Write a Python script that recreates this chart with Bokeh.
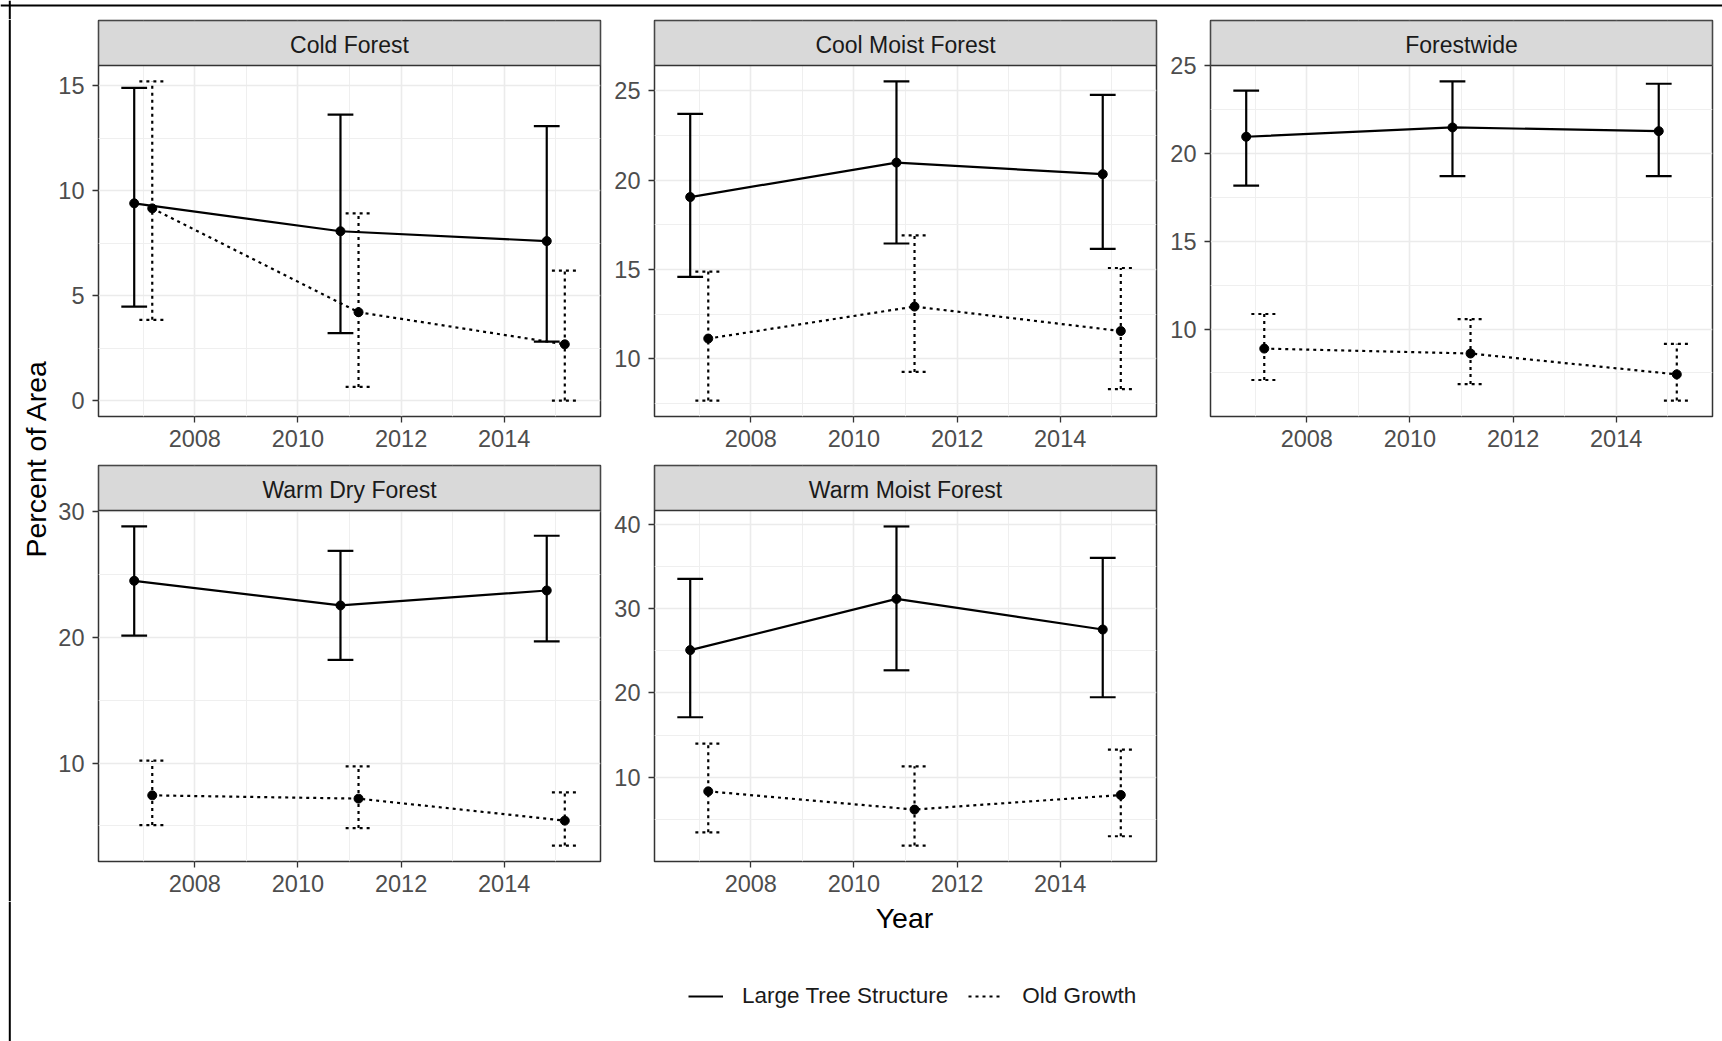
import math
from bokeh.plotting import figure
from bokeh.layouts import column, row
from bokeh.models import (ColumnDataSource, Range1d, FixedTicker, Label, Span,
                          Legend, LegendItem)
from bokeh.transform import dodge
from bokeh.embed import file_html
from bokeh.resources import INLINE

# ---------------- data ----------------
years = [2007, 2011, 2015]
series_names = ["Large Tree Structure", "Old Growth"]
panel_names = ["Cold Forest", "Cool Moist Forest", "Forestwide",
               "Warm Dry Forest", "Warm Moist Forest"]

cold_lts_mean = [9.40, 8.07, 7.60]
cold_lts_low = [4.48, 3.21, 2.81]
cold_lts_high = [14.90, 13.63, 13.08]
cold_og_mean = [9.16, 4.21, 2.68]
cold_og_low = [3.85, 0.65, 0.00]
cold_og_high = [15.21, 8.92, 6.19]

cool_lts_mean = [19.06, 20.99, 20.34]
cool_lts_low = [14.59, 16.46, 16.16]
cool_lts_high = [23.71, 25.53, 24.78]
cool_og_mean = [11.14, 12.93, 11.56]
cool_og_low = [7.67, 9.27, 8.31]
cool_og_high = [14.89, 16.91, 15.09]

fw_lts_mean = [20.96, 21.49, 21.28]
fw_lts_low = [18.18, 18.72, 18.72]
fw_lts_high = [23.59, 24.11, 23.98]
fw_og_mean = [8.89, 8.61, 7.42]
fw_og_low = [7.10, 6.87, 5.93]
fw_og_high = [10.86, 10.57, 9.16]

wd_lts_mean = [24.49, 22.53, 23.72]
wd_lts_low = [20.13, 18.20, 19.68]
wd_lts_high = [28.81, 26.87, 28.07]
wd_og_mean = [7.43, 7.17, 5.42]
wd_og_low = [5.07, 4.83, 3.44]
wd_og_high = [10.19, 9.74, 7.67]

wm_lts_mean = [25.07, 31.14, 27.51]
wm_lts_low = [17.12, 22.68, 19.49]
wm_lts_high = [33.51, 39.72, 36.00]
wm_og_mean = [8.34, 6.18, 7.91]
wm_og_low = [3.49, 1.92, 3.02]
wm_og_high = [13.99, 11.30, 13.28]

x_ticks = [2008, 2010, 2012, 2014]
x_minor = [2007, 2009, 2011, 2013, 2015]
cold_ticks = [0, 5, 10, 15]
cold_minor = [2.5, 7.5, 12.5]
cool_ticks = [10, 15, 20, 25]
cool_minor = [7.5, 12.5, 17.5, 22.5]
fw_ticks = [10, 15, 20, 25]
fw_minor = [7.5, 12.5, 17.5, 22.5]
wd_ticks = [10, 20, 30]
wd_minor = [5, 15, 25]
wm_ticks = [10, 20, 30, 40]
wm_minor = [5, 15, 25, 35]

# ---------------- style ----------------
FONT = "Liberation Sans"
TICK_SIZE = "23.5px"
STRIP_SIZE = "23px"
LEG_SIZE = "22.5px"
TITLE_SIZE = "28.5px"
DODGE = 0.175
CAP = 0.25
FRAME_W = 502
FRAME_H = 351
STRIP_H = 45
LW = 2.2


def padded(lo, hi, frac=0.05):
    span = hi - lo
    return lo - frac * span, hi + frac * span


x_lo, x_hi = padded(min(years) - DODGE - CAP, max(years) + DODGE + CAP)


def blank_fig(w, h, **kw):
    f = figure(width=w, height=h, output_backend="svg", toolbar_location=None,
               tools="", x_axis_location=None, y_axis_location=None,
               title_location=None, min_border=0, **kw)
    f.xgrid.visible = False
    f.ygrid.visible = False
    f.outline_line_color = None
    return f


def panel_fig(name, lts, og, yticks, yminor, left, bottom):
    lo = min(min(lts[1]), min(og[1]))
    hi = max(max(lts[2]), max(og[2]))
    y0, y1 = padded(lo, hi)
    y_top = y1 + (y1 - y0) * STRIP_H / FRAME_H   # room for the facet strip
    p = figure(width=left + FRAME_W + 2, height=1 + STRIP_H + FRAME_H + bottom,
               x_range=Range1d(x_lo, x_hi), y_range=Range1d(y0, y_top),
               output_backend="svg", toolbar_location=None, tools="",
               title_location=None,
               min_border_left=left, min_border_right=2,
               min_border_top=1, min_border_bottom=bottom)
    p.xaxis.ticker = FixedTicker(ticks=x_ticks, minor_ticks=x_minor)
    p.yaxis.ticker = FixedTicker(ticks=yticks, minor_ticks=yminor)
    for ax in (p.xaxis[0], p.yaxis[0]):
        ax.axis_line_color = None
        ax.major_tick_line_color = "#333333"
        ax.major_tick_line_width = 1.3
        ax.major_tick_out = 6
        ax.major_tick_in = 0
        ax.minor_tick_line_color = None
        ax.major_label_text_font = FONT
        ax.major_label_text_font_size = TICK_SIZE
        ax.major_label_text_color = "#4D4D4D"
    p.xaxis.major_label_standoff = 7
    p.yaxis.major_label_standoff = 8
    p.grid.grid_line_color = "#EBEBEB"
    p.grid.grid_line_width = 1.6
    p.grid.minor_grid_line_color = "#EFEFEF"
    p.grid.minor_grid_line_width = 1.0
    p.outline_line_color = "#333333"
    p.outline_line_width = 1.5
    p.background_fill_color = "white"

    # facet strip
    p.quad(left=x_lo, right=x_hi, bottom=y1, top=y_top, fill_color="#D9D9D9",
           line_color="#333333", line_width=1.5)
    p.add_layout(Label(x=(x_lo + x_hi) / 2, y=(y1 + y_top) / 2, y_offset=-2,
                       text=name, text_align="center", text_baseline="middle",
                       text_font=FONT, text_font_size=STRIP_SIZE,
                       text_color="#1A1A1A"))

    for (mean, low, high), off, dash in ((lts, -DODGE, "solid"),
                                         (og, DODGE, "3 4")):
        src = ColumnDataSource(dict(year=years, mean=mean, low=low, high=high))
        xc = dodge("year", off)
        xa = dodge("year", off - CAP)
        xb = dodge("year", off + CAP)
        kw = dict(line_color="black", line_width=LW, line_dash=dash, source=src)
        p.segment(x0=xc, y0="low", x1=xc, y1="high", **kw)
        p.segment(x0=xa, y0="high", x1=xb, y1="high", **kw)
        p.segment(x0=xa, y0="low", x1=xb, y1="low", **kw)
        p.line(x=xc, y="mean", **kw)
        p.scatter(x=xc, y="mean", marker="circle", size=9, color="black",
                  source=src)
    return p


L1, L2 = 46, 52
B1, B2 = 48, 40

panels = [
    ((cold_lts_mean, cold_lts_low, cold_lts_high),
     (cold_og_mean, cold_og_low, cold_og_high), cold_ticks, cold_minor, L1, B1),
    ((cool_lts_mean, cool_lts_low, cool_lts_high),
     (cool_og_mean, cool_og_low, cool_og_high), cool_ticks, cool_minor, L2, B1),
    ((fw_lts_mean, fw_lts_low, fw_lts_high),
     (fw_og_mean, fw_og_low, fw_og_high), fw_ticks, fw_minor, L2, B1),
    ((wd_lts_mean, wd_lts_low, wd_lts_high),
     (wd_og_mean, wd_og_low, wd_og_high), wd_ticks, wd_minor, L1, B2),
    ((wm_lts_mean, wm_lts_low, wm_lts_high),
     (wm_og_mean, wm_og_low, wm_og_high), wm_ticks, wm_minor, L2, B2),
]

figs = [panel_fig(n, *cfg) for n, cfg in zip(panel_names, panels)]

grid = column(row(figs[0], figs[1], figs[2]),
              row(figs[3], figs[4]))

TOTAL_W = 1722
TOTAL_H = 1041
TOP_H = 19
YLAB_W = 52
BORDER_X = 9.3
GRID_H = (1 + STRIP_H + FRAME_H) * 2 + B1 + B2

border = dict(line_color="black", line_width=2)

# top bar with the frame border
top = blank_fig(TOTAL_W, TOP_H, x_range=Range1d(0, TOTAL_W),
                y_range=Range1d(0, TOP_H))
top.add_layout(Span(location=TOP_H - 5, dimension="width", **border))
top.add_layout(Span(location=BORDER_X, dimension="height", **border))

# y axis title
ylab = blank_fig(YLAB_W, GRID_H, x_range=Range1d(0, YLAB_W),
                 y_range=Range1d(0, GRID_H))
ylab.add_layout(Span(location=BORDER_X, dimension="height", **border))
ylab.add_layout(Label(x=35, y=GRID_H - (458 - TOP_H), text="Percent of Area",
                      angle=math.pi / 2, text_align="center",
                      text_baseline="middle", text_font=FONT,
                      text_font_size=TITLE_SIZE, text_color="black"))

# bottom: x title and legend
BOT_H = TOTAL_H - TOP_H - GRID_H
bot = blank_fig(TOTAL_W, BOT_H, x_range=Range1d(0, TOTAL_W),
                y_range=Range1d(0, BOT_H))
bot.add_layout(Span(location=BORDER_X, dimension="height", **border))
bot.add_layout(Label(x=904, y=BOT_H - 16, text="Year", text_align="center",
                     text_baseline="middle", text_font=FONT,
                     text_font_size=TITLE_SIZE, text_color="black"))
# legend key renderers (kept outside the visible area; only their keys show)
r1 = bot.line(x=[-50, -40], y=[-50, -50], line_color="black", line_width=LW)
r2 = bot.line(x=[-50, -40], y=[-50, -50], line_color="black", line_width=LW,
              line_dash="3 4")
legend = Legend(items=[LegendItem(label=series_names[0], renderers=[r1]),
                       LegendItem(label=series_names[1], renderers=[r2])],
                orientation="horizontal", location=(688, 44 - 12),
                glyph_width=35, glyph_height=24, label_height=24,
                label_standoff=19, spacing=20, padding=0, margin=0,
                border_line_color=None, background_fill_alpha=0,
                label_text_font=FONT, label_text_font_size=LEG_SIZE,
                label_text_color="#1A1A1A", label_text_baseline="middle")
bot.add_layout(legend)

layout = column(top, row(ylab, grid), bot)

open("out.html", "w").write(file_html(layout, INLINE, title="Percent of Area"))
